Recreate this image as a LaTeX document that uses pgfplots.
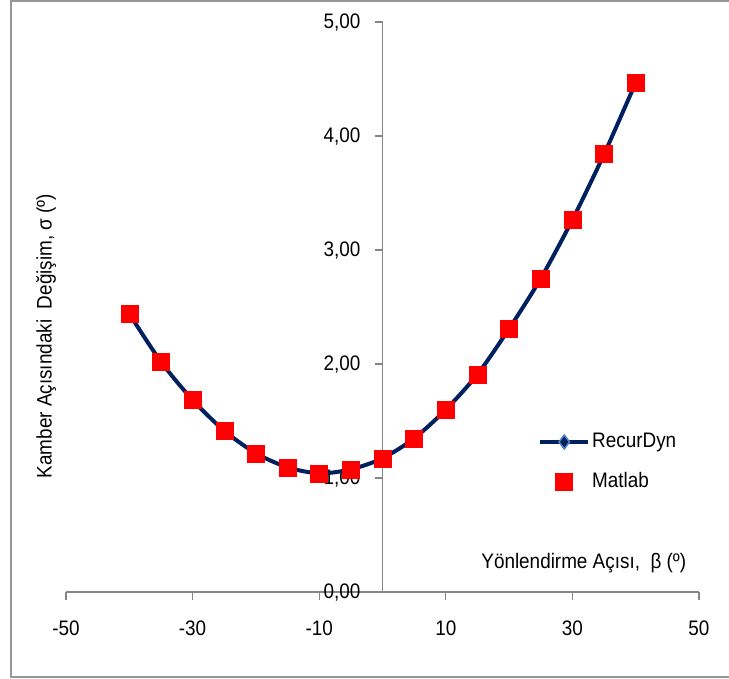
\documentclass[border=0pt]{standalone}
\usepackage{fontspec}
\setmainfont{Liberation Sans}[FakeStretch=0.9]
\usepackage{pgfplots}
\usepackage{pgfplotstable}
\pgfplotsset{compat=1.18}
\definecolor{navy}{RGB}{0,32,96}
\definecolor{axgray}{RGB}{134,134,134}
\definecolor{bordergray}{RGB}{150,150,150}
\definecolor{dlight}{RGB}{80,130,200}
\definecolor{mred}{RGB}{255,0,0}

\pgfplotstableread{
x y
-40 2.44
-35 2.02
-30 1.685
-25 1.415
-20 1.217
-15 1.094
-10 1.041
-5 1.076
0 1.173
5 1.348
10 1.60
15 1.91
20 2.31
25 2.75
30 3.265
35 3.84
40 4.468
}\recurdyn

\pgfplotstableread{
x y
-40 2.44
-35 2.02
-30 1.685
-25 1.415
-20 1.217
-15 1.094
-10 1.041
-5 1.076
0 1.173
5 1.348
10 1.60
15 1.91
20 2.31
25 2.75
30 3.265
35 3.84
40 4.468
}\matlab

\newcommand{\chfont}{\fontsize{21}{24}\selectfont}

\begin{document}
\begin{tikzpicture}[x=1pt,y=1pt]
\chfont
\path[use as bounding box] (0,0) rectangle (729,679);
\draw[bordergray, line width=1.5pt] (735,2) -- (11,2) -- (11,678) -- (735,678);
\begin{axis}[
  at={(66pt,87pt)}, anchor=south west,
  width=633pt, height=570pt, scale only axis,
  xmin=-50, xmax=50, ymin=0, ymax=5,
  axis lines=middle,
  hide obscured x ticks=false,
  hide obscured y ticks=false,
  axis line style={-, axgray, line width=1.3pt},
  xtick={-50,-30,-10,10,30,50},
  ytick={0,1,2,3,4,5},
  tick style={axgray, line width=1.3pt},
  major tick length=8pt,
  tick align=outside,
  /pgf/number format/assume math mode=true,
  xticklabel style={anchor=center, yshift=-28pt, font=\chfont},
  yticklabel style={anchor=east, inner sep=0pt, xshift=-14pt, yshift=-1pt, font=\chfont},
  yticklabel={\pgfmathprintnumber[fixed,fixed zerofill,precision=2,use comma]{\tick}},
  xticklabel={\pgfmathprintnumber[fixed,precision=0]{\tick}},
  xlabel={Yönlendirme Açısı,\ \ β (º)},
  ylabel={Kamber Açısındaki\ \ Değişim, σ (º)},
  every axis x label/.style={at={(rel axis cs:0.818,0.0509)}, anchor=center, font=\chfont},
  every axis y label/.style={at={(rel axis cs:-0.0316,0.449)}, rotate=90, anchor=center, font=\chfont},
  legend image code/.code={\draw[mark repeat=2,mark phase=2,#1] plot coordinates {(0pt,0pt) (24pt,0pt) (48pt,0pt)};},
  legend style={draw=none, fill=none, inner sep=0pt, at={(rel axis cs:0.7457,0.2825)}, anchor=north west,
    row sep=18pt, font=\chfont, legend cell align=left,
    /tikz/every even column/.append style={column sep=4pt}},
  clip=false,
]
\addplot[navy, line width=4pt, smooth, tension=0.5, mark=diamond*, mark size=7pt,
  mark options={fill=navy, draw=dlight, line width=1.5pt}] table[x=x,y=y] {\recurdyn};
\addlegendentry{RecurDyn}
\addplot[only marks, mark=square*, mark size=8.5pt, mark options={fill=mred, draw=mred, line width=0.5pt}] table[x=x,y=y] {\matlab};
\addlegendentry{Matlab}
\end{axis}
\end{tikzpicture}
\end{document}
